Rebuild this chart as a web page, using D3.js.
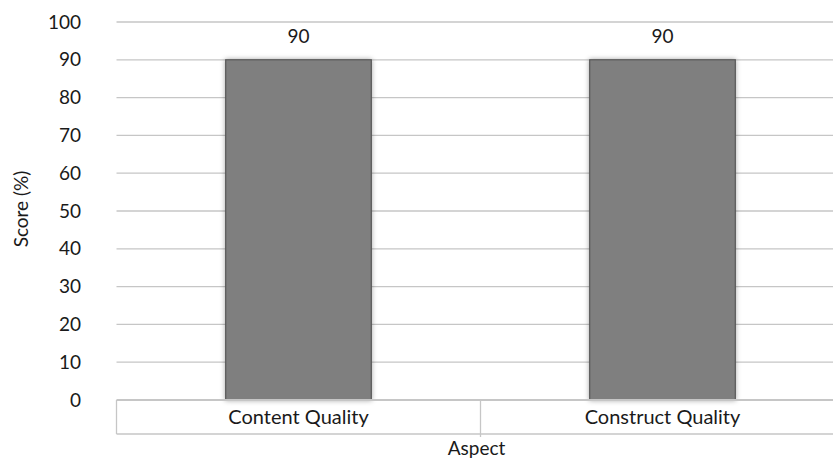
<!DOCTYPE html>
<html><head><meta charset="utf-8">
<script src="https://cdn.jsdelivr.net/npm/d3@7"></script>
<style>body{margin:0;background:#fff}svg{display:block;font-family:Lato,"Open Sans",sans-serif}</style>
</head><body><svg id="c" width="833" height="458"></svg>
<script>
const categories = ["Content Quality", "Construct Quality"];
const scores = [90, 90];
const yTicks = [0,10,20,30,40,50,60,70,80,90,100];
const xTitle = "Aspect";
const yTitle = "Score (%)";

(function(){
const svg = d3.select("#c");
const pLeft = 116.5, pRight = 844.5, pTop = 22, pBottom = 400;
const x = d3.scaleBand().domain(categories).range([pLeft, pRight]).paddingInner(0.6).paddingOuter(0.3);
const y = d3.scaleLinear().domain([0, 100]).range([pBottom, pTop]);

const defs = svg.append("defs");
const f = defs.append("filter").attr("id","sh").attr("x","-20%").attr("y","-20%").attr("width","140%").attr("height","140%");
f.append("feDropShadow").attr("dx",0).attr("dy",0).attr("stdDeviation",2.5).attr("flood-color","#000").attr("flood-opacity",0.35);

// gridlines
svg.append("g").selectAll("line").data(yTicks.filter(d=>d>0)).join("line")
  .attr("x1", pLeft).attr("x2", pRight).attr("y1", d=>y(d)).attr("y2", d=>y(d))
  .attr("stroke", "#c6c6c6").attr("stroke-width", 1.3);

// y tick labels
svg.append("g").selectAll("text").data(yTicks).join("text")
  .attr("x", 81).attr("y", d=>y(d)).attr("dy","0.35em").attr("text-anchor","end")
  .attr("font-size", 19).attr("fill","#1a1a1a").text(d=>d);

// bars
svg.append("g").selectAll("rect").data(scores).join("rect")
  .attr("x", (d,i)=>x(categories[i])).attr("width", x.bandwidth())
  .attr("y", d=>y(d)).attr("height", d=>y(0)-y(d))
  .attr("fill","#7f7f7f").attr("stroke","#575757").attr("stroke-width",1.2)
  .attr("filter","url(#sh)");

// data labels
svg.append("g").selectAll("text").data(scores).join("text")
  .attr("x", (d,i)=>x(categories[i]) + x.bandwidth()/2).attr("y", d=>y(d)-17)
  .attr("text-anchor","middle").attr("font-size", 19).attr("fill","#1a1a1a").text(d=>d);

// category axis box
const g = svg.append("g").attr("stroke","#c6c6c6");
g.append("line").attr("x1",pLeft).attr("x2",pRight).attr("y1",pBottom).attr("y2",pBottom).attr("stroke-width",2);
g.append("line").attr("x1",pLeft).attr("x2",pRight).attr("y1",434).attr("y2",434).attr("stroke-width",1.3);
const step = x.step();
const edges = [pLeft, pLeft + step];
g.selectAll("line.v").data(edges).join("line").attr("class","v")
  .attr("x1",d=>d).attr("x2",d=>d).attr("y1",pBottom).attr("y2",(d,i)=>i===0?434:437).attr("stroke-width",1.3);

svg.append("g").selectAll("text").data(categories).join("text")
  .attr("x", d=>x(d)+x.bandwidth()/2).attr("y", 417).attr("dy","0.35em")
  .attr("text-anchor","middle").attr("font-size",20).attr("fill","#1a1a1a").text(d=>d);

svg.append("text").attr("x", pLeft + step - 4).attr("y", 448).attr("dy","0.35em")
  .attr("text-anchor","middle").attr("font-size",19).attr("fill","#1a1a1a").text(xTitle);

svg.append("text").attr("transform","translate(21,209) rotate(-90)").attr("dy","0.35em")
  .attr("text-anchor","middle").attr("font-size",19).attr("fill","#1a1a1a").text(yTitle);
})();
</script></body></html>
